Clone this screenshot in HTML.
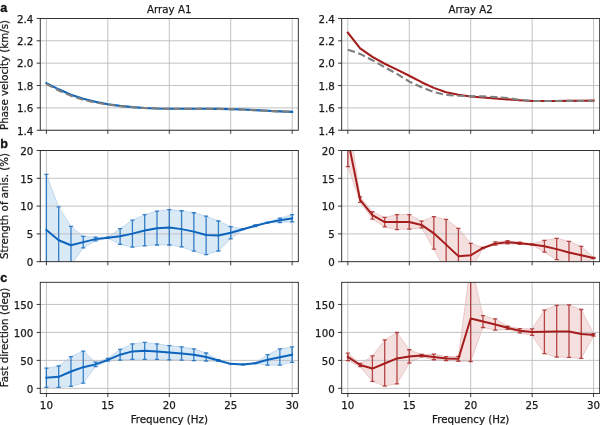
<!DOCTYPE html>
<html lang="en"><head><meta charset="utf-8"><title>Array A1 / Array A2 anisotropy figure</title>
<style>
html,body{margin:0;padding:0;background:#fff;}
svg{display:block;will-change:transform;}
.t{font-family:"DejaVu Sans", "Liberation Sans", sans-serif;font-size:10.25px;fill:#1a1a1a;stroke:#1a1a1a;stroke-width:0.25px;}
.p{font-family:"Liberation Sans", "DejaVu Sans", sans-serif;font-size:12.6px;font-weight:bold;fill:#111;stroke:#111;stroke-width:0.3px;}
</style></head><body>
<svg width="600" height="425" viewBox="0 0 600 425">
<rect width="600" height="425" fill="#fff"/>
<clipPath id="c1"><rect x="40.25" y="18.45" width="258.05" height="111.80"/></clipPath>
<g clip-path="url(#c1)">
<line x1="46.39" y1="18.45" x2="46.39" y2="130.25" stroke="#bbbbbe" stroke-width="0.9"/>
<line x1="107.83" y1="18.45" x2="107.83" y2="130.25" stroke="#bbbbbe" stroke-width="0.9"/>
<line x1="169.28" y1="18.45" x2="169.28" y2="130.25" stroke="#bbbbbe" stroke-width="0.9"/>
<line x1="230.72" y1="18.45" x2="230.72" y2="130.25" stroke="#bbbbbe" stroke-width="0.9"/>
<line x1="292.16" y1="18.45" x2="292.16" y2="130.25" stroke="#bbbbbe" stroke-width="0.9"/>
<line x1="40.25" y1="130.25" x2="298.3" y2="130.25" stroke="#bbbbbe" stroke-width="0.9"/>
<line x1="40.25" y1="107.89" x2="298.3" y2="107.89" stroke="#bbbbbe" stroke-width="0.9"/>
<line x1="40.25" y1="85.53" x2="298.3" y2="85.53" stroke="#bbbbbe" stroke-width="0.9"/>
<line x1="40.25" y1="63.17" x2="298.3" y2="63.17" stroke="#bbbbbe" stroke-width="0.9"/>
<line x1="40.25" y1="40.81" x2="298.3" y2="40.81" stroke="#bbbbbe" stroke-width="0.9"/>
<line x1="40.25" y1="18.45" x2="298.3" y2="18.45" stroke="#bbbbbe" stroke-width="0.9"/>
<polyline points="46.39,83.07 58.68,89.33 70.97,94.70 83.26,98.83 95.55,101.85 107.83,104.20 120.12,105.88 132.41,107.11 144.70,108.00 156.99,108.56 169.28,108.78 181.56,108.78 193.85,108.78 206.14,108.78 218.43,108.90 230.72,109.12 243.00,109.57 255.29,110.13 267.58,110.80 279.87,111.36 292.16,111.80" fill="none" stroke="#0c64bc" stroke-width="2.1" stroke-linejoin="round" stroke-linecap="square"/>
<polyline points="46.39,83.96 58.68,90.45 70.97,95.82 83.26,99.73 95.55,102.52 107.83,104.54 120.12,106.10 132.41,107.22 144.70,108.00 156.99,108.56 169.28,108.78 181.56,108.78 193.85,108.78 206.14,108.78 218.43,108.90 230.72,109.12 243.00,109.57 255.29,110.24 267.58,110.91 279.87,111.47 292.16,111.91" fill="none" stroke="#7f7f7f" stroke-width="2.1" stroke-dasharray="7.4 3.5" stroke-dashoffset="0" stroke-linejoin="round"/>
</g>
<rect x="40.25" y="18.45" width="258.05" height="111.80" fill="none" stroke="#222222" stroke-width="0.9"/>
<line x1="46.39" y1="130.25" x2="46.39" y2="133.85" stroke="#222222" stroke-width="0.9"/>
<line x1="107.83" y1="130.25" x2="107.83" y2="133.85" stroke="#222222" stroke-width="0.9"/>
<line x1="169.28" y1="130.25" x2="169.28" y2="133.85" stroke="#222222" stroke-width="0.9"/>
<line x1="230.72" y1="130.25" x2="230.72" y2="133.85" stroke="#222222" stroke-width="0.9"/>
<line x1="292.16" y1="130.25" x2="292.16" y2="133.85" stroke="#222222" stroke-width="0.9"/>
<line x1="36.65" y1="130.25" x2="40.25" y2="130.25" stroke="#222222" stroke-width="0.9"/>
<text x="33.25" y="134.50" text-anchor="end" class="t">1.4</text>
<line x1="36.65" y1="107.89" x2="40.25" y2="107.89" stroke="#222222" stroke-width="0.9"/>
<text x="33.25" y="112.14" text-anchor="end" class="t">1.6</text>
<line x1="36.65" y1="85.53" x2="40.25" y2="85.53" stroke="#222222" stroke-width="0.9"/>
<text x="33.25" y="89.78" text-anchor="end" class="t">1.8</text>
<line x1="36.65" y1="63.17" x2="40.25" y2="63.17" stroke="#222222" stroke-width="0.9"/>
<text x="33.25" y="67.42" text-anchor="end" class="t">2.0</text>
<line x1="36.65" y1="40.81" x2="40.25" y2="40.81" stroke="#222222" stroke-width="0.9"/>
<text x="33.25" y="45.06" text-anchor="end" class="t">2.2</text>
<line x1="36.65" y1="18.45" x2="40.25" y2="18.45" stroke="#222222" stroke-width="0.9"/>
<text x="33.25" y="22.70" text-anchor="end" class="t">2.4</text>
<clipPath id="c2"><rect x="341.7" y="18.45" width="258.00" height="111.80"/></clipPath>
<g clip-path="url(#c2)">
<line x1="347.84" y1="18.45" x2="347.84" y2="130.25" stroke="#bbbbbe" stroke-width="0.9"/>
<line x1="409.27" y1="18.45" x2="409.27" y2="130.25" stroke="#bbbbbe" stroke-width="0.9"/>
<line x1="470.70" y1="18.45" x2="470.70" y2="130.25" stroke="#bbbbbe" stroke-width="0.9"/>
<line x1="532.13" y1="18.45" x2="532.13" y2="130.25" stroke="#bbbbbe" stroke-width="0.9"/>
<line x1="593.56" y1="18.45" x2="593.56" y2="130.25" stroke="#bbbbbe" stroke-width="0.9"/>
<line x1="341.7" y1="130.25" x2="599.7" y2="130.25" stroke="#bbbbbe" stroke-width="0.9"/>
<line x1="341.7" y1="107.89" x2="599.7" y2="107.89" stroke="#bbbbbe" stroke-width="0.9"/>
<line x1="341.7" y1="85.53" x2="599.7" y2="85.53" stroke="#bbbbbe" stroke-width="0.9"/>
<line x1="341.7" y1="63.17" x2="599.7" y2="63.17" stroke="#bbbbbe" stroke-width="0.9"/>
<line x1="341.7" y1="40.81" x2="599.7" y2="40.81" stroke="#bbbbbe" stroke-width="0.9"/>
<line x1="341.7" y1="18.45" x2="599.7" y2="18.45" stroke="#bbbbbe" stroke-width="0.9"/>
<polyline points="347.84,32.65 360.13,48.41 372.41,56.80 384.70,63.73 396.99,69.65 409.27,75.80 421.56,82.18 433.84,87.88 446.13,92.24 458.41,94.81 470.70,96.49 482.99,97.49 495.27,98.50 507.56,99.39 519.84,100.29 532.13,100.96 544.41,101.07 556.70,100.96 568.99,100.85 581.27,100.73 593.56,100.62" fill="none" stroke="#a51c1c" stroke-width="2.1" stroke-linejoin="round" stroke-linecap="square"/>
<polyline points="347.84,49.75 360.13,53.89 372.41,60.26 384.70,67.19 396.99,73.90 409.27,81.62 421.56,87.32 433.84,92.01 446.13,94.92 458.41,95.82 470.70,96.15 482.99,96.37 495.27,96.93 507.56,98.05 519.84,99.84 532.13,100.96 544.41,101.07 556.70,100.96 568.99,100.85 581.27,100.85 593.56,100.73" fill="none" stroke="#7f7f7f" stroke-width="2.1" stroke-dasharray="7.4 3.5" stroke-dashoffset="0" stroke-linejoin="round"/>
</g>
<rect x="341.7" y="18.45" width="258.00" height="111.80" fill="none" stroke="#222222" stroke-width="0.9"/>
<line x1="347.84" y1="130.25" x2="347.84" y2="133.85" stroke="#222222" stroke-width="0.9"/>
<line x1="409.27" y1="130.25" x2="409.27" y2="133.85" stroke="#222222" stroke-width="0.9"/>
<line x1="470.70" y1="130.25" x2="470.70" y2="133.85" stroke="#222222" stroke-width="0.9"/>
<line x1="532.13" y1="130.25" x2="532.13" y2="133.85" stroke="#222222" stroke-width="0.9"/>
<line x1="593.56" y1="130.25" x2="593.56" y2="133.85" stroke="#222222" stroke-width="0.9"/>
<line x1="338.10" y1="130.25" x2="341.7" y2="130.25" stroke="#222222" stroke-width="0.9"/>
<text x="334.70" y="134.50" text-anchor="end" class="t">1.4</text>
<line x1="338.10" y1="107.89" x2="341.7" y2="107.89" stroke="#222222" stroke-width="0.9"/>
<text x="334.70" y="112.14" text-anchor="end" class="t">1.6</text>
<line x1="338.10" y1="85.53" x2="341.7" y2="85.53" stroke="#222222" stroke-width="0.9"/>
<text x="334.70" y="89.78" text-anchor="end" class="t">1.8</text>
<line x1="338.10" y1="63.17" x2="341.7" y2="63.17" stroke="#222222" stroke-width="0.9"/>
<text x="334.70" y="67.42" text-anchor="end" class="t">2.0</text>
<line x1="338.10" y1="40.81" x2="341.7" y2="40.81" stroke="#222222" stroke-width="0.9"/>
<text x="334.70" y="45.06" text-anchor="end" class="t">2.2</text>
<line x1="338.10" y1="18.45" x2="341.7" y2="18.45" stroke="#222222" stroke-width="0.9"/>
<text x="334.70" y="22.70" text-anchor="end" class="t">2.4</text>
<clipPath id="c3"><rect x="40.25" y="150.5" width="258.05" height="111.20"/></clipPath>
<g clip-path="url(#c3)">
<polygon points="46.39,174.41 58.68,206.88 70.97,226.28 83.26,236.29 95.55,237.12 107.83,237.24 120.12,228.62 132.41,220.17 144.70,214.61 156.99,211.10 169.28,209.60 181.56,210.77 193.85,212.77 206.14,216.11 218.43,221.00 230.72,226.62 243.00,228.73 255.29,225.00 267.58,222.17 279.87,218.11 292.16,214.55 292.16,221.95 279.87,222.50 267.58,223.06 255.29,226.67 243.00,229.62 230.72,238.79 218.43,251.02 206.14,254.64 193.85,251.14 181.56,246.97 169.28,245.02 156.99,245.02 144.70,245.80 132.41,247.13 120.12,244.46 107.83,238.35 95.55,240.96 83.26,247.97 70.97,265.04 58.68,273.38 46.39,285.61" fill="#d9e9f6" stroke="#0c64bc" stroke-opacity="0.22" stroke-width="0.8"/>
<line x1="46.39" y1="150.5" x2="46.39" y2="261.7" stroke="#bbbbbe" stroke-width="0.9"/>
<line x1="107.83" y1="150.5" x2="107.83" y2="261.7" stroke="#bbbbbe" stroke-width="0.9"/>
<line x1="169.28" y1="150.5" x2="169.28" y2="261.7" stroke="#bbbbbe" stroke-width="0.9"/>
<line x1="230.72" y1="150.5" x2="230.72" y2="261.7" stroke="#bbbbbe" stroke-width="0.9"/>
<line x1="292.16" y1="150.5" x2="292.16" y2="261.7" stroke="#bbbbbe" stroke-width="0.9"/>
<line x1="40.25" y1="261.70" x2="298.3" y2="261.70" stroke="#bbbbbe" stroke-width="0.9"/>
<line x1="40.25" y1="233.90" x2="298.3" y2="233.90" stroke="#bbbbbe" stroke-width="0.9"/>
<line x1="40.25" y1="206.10" x2="298.3" y2="206.10" stroke="#bbbbbe" stroke-width="0.9"/>
<line x1="40.25" y1="178.30" x2="298.3" y2="178.30" stroke="#bbbbbe" stroke-width="0.9"/>
<line x1="40.25" y1="150.50" x2="298.3" y2="150.50" stroke="#bbbbbe" stroke-width="0.9"/>
<path d="M46.39,285.61V174.41M44.29,285.61h4.2M44.29,174.41h4.2M58.68,273.38V206.88M56.58,273.38h4.2M56.58,206.88h4.2M70.97,265.04V226.28M68.87,265.04h4.2M68.87,226.28h4.2M83.26,247.97V236.29M81.16,247.97h4.2M81.16,236.29h4.2M95.55,240.96V237.12M93.45,240.96h4.2M93.45,237.12h4.2M107.83,238.35V237.24M105.73,238.35h4.2M105.73,237.24h4.2M120.12,244.46V228.62M118.02,244.46h4.2M118.02,228.62h4.2M132.41,247.13V220.17M130.31,247.13h4.2M130.31,220.17h4.2M144.70,245.80V214.61M142.60,245.80h4.2M142.60,214.61h4.2M156.99,245.02V211.10M154.89,245.02h4.2M154.89,211.10h4.2M169.28,245.02V209.60M167.18,245.02h4.2M167.18,209.60h4.2M181.56,246.97V210.77M179.46,246.97h4.2M179.46,210.77h4.2M193.85,251.14V212.77M191.75,251.14h4.2M191.75,212.77h4.2M206.14,254.64V216.11M204.04,254.64h4.2M204.04,216.11h4.2M218.43,251.02V221.00M216.33,251.02h4.2M216.33,221.00h4.2M230.72,238.79V226.62M228.62,238.79h4.2M228.62,226.62h4.2M243.00,229.62V228.73M240.90,229.62h4.2M240.90,228.73h4.2M255.29,226.67V225.00M253.19,226.67h4.2M253.19,225.00h4.2M267.58,223.06V222.17M265.48,223.06h4.2M265.48,222.17h4.2M279.87,222.50V218.11M277.77,222.50h4.2M277.77,218.11h4.2M292.16,221.95V214.55M290.06,221.95h4.2M290.06,214.55h4.2" fill="none" stroke="#0c64bc" stroke-opacity="0.8" stroke-width="1.3"/>
<polyline points="46.39,229.95 58.68,240.29 70.97,245.30 83.26,242.13 95.55,239.13 107.83,237.79 120.12,236.29 132.41,233.62 144.70,230.45 156.99,228.28 169.28,227.45 181.56,229.12 193.85,231.62 206.14,234.96 218.43,235.46 230.72,232.73 243.00,229.17 255.29,225.84 267.58,222.61 279.87,220.33 292.16,218.33" fill="none" stroke="#0c64bc" stroke-width="2" stroke-linejoin="round" stroke-linecap="square"/>
</g>
<rect x="40.25" y="150.5" width="258.05" height="111.20" fill="none" stroke="#222222" stroke-width="0.9"/>
<line x1="46.39" y1="261.7" x2="46.39" y2="265.3" stroke="#222222" stroke-width="0.9"/>
<line x1="107.83" y1="261.7" x2="107.83" y2="265.3" stroke="#222222" stroke-width="0.9"/>
<line x1="169.28" y1="261.7" x2="169.28" y2="265.3" stroke="#222222" stroke-width="0.9"/>
<line x1="230.72" y1="261.7" x2="230.72" y2="265.3" stroke="#222222" stroke-width="0.9"/>
<line x1="292.16" y1="261.7" x2="292.16" y2="265.3" stroke="#222222" stroke-width="0.9"/>
<line x1="36.65" y1="261.70" x2="40.25" y2="261.70" stroke="#222222" stroke-width="0.9"/>
<text x="33.25" y="265.95" text-anchor="end" class="t">0</text>
<line x1="36.65" y1="233.90" x2="40.25" y2="233.90" stroke="#222222" stroke-width="0.9"/>
<text x="33.25" y="238.15" text-anchor="end" class="t">5</text>
<line x1="36.65" y1="206.10" x2="40.25" y2="206.10" stroke="#222222" stroke-width="0.9"/>
<text x="33.25" y="210.35" text-anchor="end" class="t">10</text>
<line x1="36.65" y1="178.30" x2="40.25" y2="178.30" stroke="#222222" stroke-width="0.9"/>
<text x="33.25" y="182.55" text-anchor="end" class="t">15</text>
<line x1="36.65" y1="150.50" x2="40.25" y2="150.50" stroke="#222222" stroke-width="0.9"/>
<text x="33.25" y="154.75" text-anchor="end" class="t">20</text>
<clipPath id="c4"><rect x="341.7" y="150.5" width="258.00" height="111.20"/></clipPath>
<g clip-path="url(#c4)">
<polygon points="347.84,112.14 360.13,196.87 372.41,211.66 384.70,217.44 396.99,214.61 409.27,214.61 421.56,221.11 433.84,216.66 446.13,219.44 458.41,228.34 470.70,243.35 482.99,247.41 495.27,241.96 507.56,240.68 519.84,242.13 532.13,243.91 544.41,240.29 556.70,238.29 568.99,241.29 581.27,246.30 593.56,257.31 593.56,258.64 581.27,264.31 568.99,263.65 556.70,259.64 544.41,252.14 532.13,245.02 519.84,244.46 507.56,243.80 495.27,245.02 482.99,248.52 470.70,270.60 458.41,283.94 446.13,271.71 433.84,249.13 421.56,227.95 409.27,229.12 396.99,229.62 384.70,226.95 372.41,219.11 360.13,202.37 347.84,166.62" fill="#f5e0e0" stroke="#a51c1c" stroke-opacity="0.22" stroke-width="0.8"/>
<line x1="347.84" y1="150.5" x2="347.84" y2="261.7" stroke="#bbbbbe" stroke-width="0.9"/>
<line x1="409.27" y1="150.5" x2="409.27" y2="261.7" stroke="#bbbbbe" stroke-width="0.9"/>
<line x1="470.70" y1="150.5" x2="470.70" y2="261.7" stroke="#bbbbbe" stroke-width="0.9"/>
<line x1="532.13" y1="150.5" x2="532.13" y2="261.7" stroke="#bbbbbe" stroke-width="0.9"/>
<line x1="593.56" y1="150.5" x2="593.56" y2="261.7" stroke="#bbbbbe" stroke-width="0.9"/>
<line x1="341.7" y1="261.70" x2="599.7" y2="261.70" stroke="#bbbbbe" stroke-width="0.9"/>
<line x1="341.7" y1="233.90" x2="599.7" y2="233.90" stroke="#bbbbbe" stroke-width="0.9"/>
<line x1="341.7" y1="206.10" x2="599.7" y2="206.10" stroke="#bbbbbe" stroke-width="0.9"/>
<line x1="341.7" y1="178.30" x2="599.7" y2="178.30" stroke="#bbbbbe" stroke-width="0.9"/>
<line x1="341.7" y1="150.50" x2="599.7" y2="150.50" stroke="#bbbbbe" stroke-width="0.9"/>
<path d="M347.84,166.62V112.14M345.74,166.62h4.2M345.74,112.14h4.2M360.13,202.37V196.87M358.03,202.37h4.2M358.03,196.87h4.2M372.41,219.11V211.66M370.31,219.11h4.2M370.31,211.66h4.2M384.70,226.95V217.44M382.60,226.95h4.2M382.60,217.44h4.2M396.99,229.62V214.61M394.89,229.62h4.2M394.89,214.61h4.2M409.27,229.12V214.61M407.17,229.12h4.2M407.17,214.61h4.2M421.56,227.95V221.11M419.46,227.95h4.2M419.46,221.11h4.2M433.84,249.13V216.66M431.74,249.13h4.2M431.74,216.66h4.2M446.13,271.71V219.44M444.03,271.71h4.2M444.03,219.44h4.2M458.41,283.94V228.34M456.31,283.94h4.2M456.31,228.34h4.2M470.70,270.60V243.35M468.60,270.60h4.2M468.60,243.35h4.2M482.99,248.52V247.41M480.89,248.52h4.2M480.89,247.41h4.2M495.27,245.02V241.96M493.17,245.02h4.2M493.17,241.96h4.2M507.56,243.80V240.68M505.46,243.80h4.2M505.46,240.68h4.2M519.84,244.46V242.13M517.74,244.46h4.2M517.74,242.13h4.2M532.13,245.02V243.91M530.03,245.02h4.2M530.03,243.91h4.2M544.41,252.14V240.29M542.31,252.14h4.2M542.31,240.29h4.2M556.70,259.64V238.29M554.60,259.64h4.2M554.60,238.29h4.2M568.99,263.65V241.29M566.89,263.65h4.2M566.89,241.29h4.2M581.27,264.31V246.30M579.17,264.31h4.2M579.17,246.30h4.2M593.56,258.64V257.31M591.46,258.64h4.2M591.46,257.31h4.2" fill="none" stroke="#a51c1c" stroke-opacity="0.8" stroke-width="1.3"/>
<polyline points="347.84,139.38 360.13,199.98 372.41,215.22 384.70,222.11 396.99,221.95 409.27,221.95 421.56,224.95 433.84,233.34 446.13,244.63 458.41,256.14 470.70,255.31 482.99,247.97 495.27,243.63 507.56,242.24 519.84,243.30 532.13,244.46 544.41,246.30 556.70,249.13 568.99,252.47 581.27,255.31 593.56,257.97" fill="none" stroke="#a51c1c" stroke-width="2" stroke-linejoin="round" stroke-linecap="square"/>
</g>
<rect x="341.7" y="150.5" width="258.00" height="111.20" fill="none" stroke="#222222" stroke-width="0.9"/>
<line x1="347.84" y1="261.7" x2="347.84" y2="265.3" stroke="#222222" stroke-width="0.9"/>
<line x1="409.27" y1="261.7" x2="409.27" y2="265.3" stroke="#222222" stroke-width="0.9"/>
<line x1="470.70" y1="261.7" x2="470.70" y2="265.3" stroke="#222222" stroke-width="0.9"/>
<line x1="532.13" y1="261.7" x2="532.13" y2="265.3" stroke="#222222" stroke-width="0.9"/>
<line x1="593.56" y1="261.7" x2="593.56" y2="265.3" stroke="#222222" stroke-width="0.9"/>
<line x1="338.10" y1="261.70" x2="341.7" y2="261.70" stroke="#222222" stroke-width="0.9"/>
<text x="334.70" y="265.95" text-anchor="end" class="t">0</text>
<line x1="338.10" y1="233.90" x2="341.7" y2="233.90" stroke="#222222" stroke-width="0.9"/>
<text x="334.70" y="238.15" text-anchor="end" class="t">5</text>
<line x1="338.10" y1="206.10" x2="341.7" y2="206.10" stroke="#222222" stroke-width="0.9"/>
<text x="334.70" y="210.35" text-anchor="end" class="t">10</text>
<line x1="338.10" y1="178.30" x2="341.7" y2="178.30" stroke="#222222" stroke-width="0.9"/>
<text x="334.70" y="182.55" text-anchor="end" class="t">15</text>
<line x1="338.10" y1="150.50" x2="341.7" y2="150.50" stroke="#222222" stroke-width="0.9"/>
<text x="334.70" y="154.75" text-anchor="end" class="t">20</text>
<clipPath id="c5"><rect x="40.25" y="282.3" width="258.05" height="111.15"/></clipPath>
<g clip-path="url(#c5)">
<polygon points="46.39,368.22 58.68,365.98 70.97,356.53 83.26,351.05 95.55,362.18 107.83,358.49 120.12,349.37 132.41,343.89 144.70,342.38 156.99,343.89 169.28,345.57 181.56,346.85 193.85,348.87 206.14,353.01 218.43,359.72 230.72,363.58 243.00,364.25 255.29,362.80 267.58,354.68 279.87,348.87 292.16,346.85 292.16,362.35 279.87,365.20 267.58,365.20 255.29,363.58 243.00,364.81 230.72,364.14 218.43,361.40 206.14,361.01 193.85,360.67 181.56,360.17 169.28,359.83 156.99,359.38 144.70,359.38 132.41,359.38 120.12,360.17 107.83,361.17 95.55,366.54 83.26,383.16 70.97,386.35 58.68,387.35 46.39,387.35" fill="#d9e9f6" stroke="#0c64bc" stroke-opacity="0.22" stroke-width="0.8"/>
<line x1="46.39" y1="282.3" x2="46.39" y2="393.45" stroke="#bbbbbe" stroke-width="0.9"/>
<line x1="107.83" y1="282.3" x2="107.83" y2="393.45" stroke="#bbbbbe" stroke-width="0.9"/>
<line x1="169.28" y1="282.3" x2="169.28" y2="393.45" stroke="#bbbbbe" stroke-width="0.9"/>
<line x1="230.72" y1="282.3" x2="230.72" y2="393.45" stroke="#bbbbbe" stroke-width="0.9"/>
<line x1="292.16" y1="282.3" x2="292.16" y2="393.45" stroke="#bbbbbe" stroke-width="0.9"/>
<line x1="40.25" y1="388.36" x2="298.3" y2="388.36" stroke="#bbbbbe" stroke-width="0.9"/>
<line x1="40.25" y1="360.39" x2="298.3" y2="360.39" stroke="#bbbbbe" stroke-width="0.9"/>
<line x1="40.25" y1="332.42" x2="298.3" y2="332.42" stroke="#bbbbbe" stroke-width="0.9"/>
<line x1="40.25" y1="304.45" x2="298.3" y2="304.45" stroke="#bbbbbe" stroke-width="0.9"/>
<path d="M46.39,387.35V368.22M44.29,387.35h4.2M44.29,368.22h4.2M58.68,387.35V365.98M56.58,387.35h4.2M56.58,365.98h4.2M70.97,386.35V356.53M68.87,386.35h4.2M68.87,356.53h4.2M83.26,383.16V351.05M81.16,383.16h4.2M81.16,351.05h4.2M95.55,366.54V362.18M93.45,366.54h4.2M93.45,362.18h4.2M107.83,361.17V358.49M105.73,361.17h4.2M105.73,358.49h4.2M120.12,360.17V349.37M118.02,360.17h4.2M118.02,349.37h4.2M132.41,359.38V343.89M130.31,359.38h4.2M130.31,343.89h4.2M144.70,359.38V342.38M142.60,359.38h4.2M142.60,342.38h4.2M156.99,359.38V343.89M154.89,359.38h4.2M154.89,343.89h4.2M169.28,359.83V345.57M167.18,359.83h4.2M167.18,345.57h4.2M181.56,360.17V346.85M179.46,360.17h4.2M179.46,346.85h4.2M193.85,360.67V348.87M191.75,360.67h4.2M191.75,348.87h4.2M206.14,361.01V353.01M204.04,361.01h4.2M204.04,353.01h4.2M218.43,361.40V359.72M216.33,361.40h4.2M216.33,359.72h4.2M230.72,364.14V363.58M228.62,364.14h4.2M228.62,363.58h4.2M243.00,364.81V364.25M240.90,364.81h4.2M240.90,364.25h4.2M255.29,363.58V362.80M253.19,363.58h4.2M253.19,362.80h4.2M267.58,365.20V354.68M265.48,365.20h4.2M265.48,354.68h4.2M279.87,365.20V348.87M277.77,365.20h4.2M277.77,348.87h4.2M292.16,362.35V346.85M290.06,362.35h4.2M290.06,346.85h4.2" fill="none" stroke="#0c64bc" stroke-opacity="0.8" stroke-width="1.3"/>
<polyline points="46.39,377.68 58.68,376.84 70.97,371.52 83.26,367.16 95.55,364.36 107.83,359.83 120.12,354.68 132.41,351.38 144.70,350.71 156.99,351.38 169.28,352.39 181.56,353.51 193.85,354.68 206.14,357.03 218.43,360.56 230.72,363.86 243.00,364.53 255.29,363.19 267.58,359.83 279.87,357.20 292.16,354.68" fill="none" stroke="#0c64bc" stroke-width="2" stroke-linejoin="round" stroke-linecap="square"/>
</g>
<rect x="40.25" y="282.3" width="258.05" height="111.15" fill="none" stroke="#222222" stroke-width="0.9"/>
<line x1="46.39" y1="393.45" x2="46.39" y2="397.05" stroke="#222222" stroke-width="0.9"/>
<text x="46.39" y="409" text-anchor="middle" class="t">10</text>
<line x1="107.83" y1="393.45" x2="107.83" y2="397.05" stroke="#222222" stroke-width="0.9"/>
<text x="107.83" y="409" text-anchor="middle" class="t">15</text>
<line x1="169.28" y1="393.45" x2="169.28" y2="397.05" stroke="#222222" stroke-width="0.9"/>
<text x="169.28" y="409" text-anchor="middle" class="t">20</text>
<line x1="230.72" y1="393.45" x2="230.72" y2="397.05" stroke="#222222" stroke-width="0.9"/>
<text x="230.72" y="409" text-anchor="middle" class="t">25</text>
<line x1="292.16" y1="393.45" x2="292.16" y2="397.05" stroke="#222222" stroke-width="0.9"/>
<text x="292.16" y="409" text-anchor="middle" class="t">30</text>
<line x1="36.65" y1="388.36" x2="40.25" y2="388.36" stroke="#222222" stroke-width="0.9"/>
<text x="33.25" y="392.61" text-anchor="end" class="t">0</text>
<line x1="36.65" y1="360.39" x2="40.25" y2="360.39" stroke="#222222" stroke-width="0.9"/>
<text x="33.25" y="364.64" text-anchor="end" class="t">50</text>
<line x1="36.65" y1="332.42" x2="40.25" y2="332.42" stroke="#222222" stroke-width="0.9"/>
<text x="33.25" y="336.67" text-anchor="end" class="t">100</text>
<line x1="36.65" y1="304.45" x2="40.25" y2="304.45" stroke="#222222" stroke-width="0.9"/>
<text x="33.25" y="308.70" text-anchor="end" class="t">150</text>
<clipPath id="c6"><rect x="341.7" y="282.3" width="258.00" height="111.15"/></clipPath>
<g clip-path="url(#c6)">
<polygon points="347.84,353.12 360.13,363.52 372.41,355.97 384.70,339.97 396.99,332.48 409.27,349.76 421.56,354.35 433.84,354.13 446.13,356.53 458.41,356.47 470.70,262.50 482.99,315.64 495.27,318.88 507.56,326.27 519.84,328.56 532.13,328.84 544.41,310.05 556.70,305.29 568.99,304.96 581.27,309.49 593.56,333.60 593.56,336.17 581.27,358.38 568.99,357.43 556.70,357.03 544.41,353.68 532.13,335.44 519.84,332.87 507.56,329.40 495.27,330.18 482.99,327.50 470.70,361.51 458.41,361.23 446.13,360.67 433.84,359.77 421.56,356.81 409.27,363.13 396.99,383.83 384.70,386.07 372.41,381.37 360.13,366.71 347.84,360.67" fill="#f5e0e0" stroke="#a51c1c" stroke-opacity="0.22" stroke-width="0.8"/>
<line x1="347.84" y1="282.3" x2="347.84" y2="393.45" stroke="#bbbbbe" stroke-width="0.9"/>
<line x1="409.27" y1="282.3" x2="409.27" y2="393.45" stroke="#bbbbbe" stroke-width="0.9"/>
<line x1="470.70" y1="282.3" x2="470.70" y2="393.45" stroke="#bbbbbe" stroke-width="0.9"/>
<line x1="532.13" y1="282.3" x2="532.13" y2="393.45" stroke="#bbbbbe" stroke-width="0.9"/>
<line x1="593.56" y1="282.3" x2="593.56" y2="393.45" stroke="#bbbbbe" stroke-width="0.9"/>
<line x1="341.7" y1="388.36" x2="599.7" y2="388.36" stroke="#bbbbbe" stroke-width="0.9"/>
<line x1="341.7" y1="360.39" x2="599.7" y2="360.39" stroke="#bbbbbe" stroke-width="0.9"/>
<line x1="341.7" y1="332.42" x2="599.7" y2="332.42" stroke="#bbbbbe" stroke-width="0.9"/>
<line x1="341.7" y1="304.45" x2="599.7" y2="304.45" stroke="#bbbbbe" stroke-width="0.9"/>
<path d="M347.84,360.67V353.12M345.74,360.67h4.2M345.74,353.12h4.2M360.13,366.71V363.52M358.03,366.71h4.2M358.03,363.52h4.2M372.41,381.37V355.97M370.31,381.37h4.2M370.31,355.97h4.2M384.70,386.07V339.97M382.60,386.07h4.2M382.60,339.97h4.2M396.99,383.83V332.48M394.89,383.83h4.2M394.89,332.48h4.2M409.27,363.13V349.76M407.17,363.13h4.2M407.17,349.76h4.2M421.56,356.81V354.35M419.46,356.81h4.2M419.46,354.35h4.2M433.84,359.77V354.13M431.74,359.77h4.2M431.74,354.13h4.2M446.13,360.67V356.53M444.03,360.67h4.2M444.03,356.53h4.2M458.41,361.23V356.47M456.31,361.23h4.2M456.31,356.47h4.2M470.70,361.51V262.50M468.60,361.51h4.2M468.60,262.50h4.2M482.99,327.50V315.64M480.89,327.50h4.2M480.89,315.64h4.2M495.27,330.18V318.88M493.17,330.18h4.2M493.17,318.88h4.2M507.56,329.40V326.27M505.46,329.40h4.2M505.46,326.27h4.2M519.84,332.87V328.56M517.74,332.87h4.2M517.74,328.56h4.2M532.13,335.44V328.84M530.03,335.44h4.2M530.03,328.84h4.2M544.41,353.68V310.05M542.31,353.68h4.2M542.31,310.05h4.2M556.70,357.03V305.29M554.60,357.03h4.2M554.60,305.29h4.2M568.99,357.43V304.96M566.89,357.43h4.2M566.89,304.96h4.2M581.27,358.38V309.49M579.17,358.38h4.2M579.17,309.49h4.2M593.56,336.17V333.60M591.46,336.17h4.2M591.46,333.60h4.2" fill="none" stroke="#a51c1c" stroke-opacity="0.8" stroke-width="1.3"/>
<polyline points="347.84,356.92 360.13,364.98 372.41,368.56 384.70,363.52 396.99,358.43 409.27,356.53 421.56,355.58 433.84,356.92 446.13,358.60 458.41,358.71 470.70,318.44 482.99,321.57 495.27,324.42 507.56,327.83 519.84,330.69 532.13,332.03 544.41,331.86 556.70,331.47 568.99,331.47 581.27,333.93 593.56,334.88" fill="none" stroke="#a51c1c" stroke-width="2" stroke-linejoin="round" stroke-linecap="square"/>
</g>
<rect x="341.7" y="282.3" width="258.00" height="111.15" fill="none" stroke="#222222" stroke-width="0.9"/>
<line x1="347.84" y1="393.45" x2="347.84" y2="397.05" stroke="#222222" stroke-width="0.9"/>
<text x="347.84" y="409" text-anchor="middle" class="t">10</text>
<line x1="409.27" y1="393.45" x2="409.27" y2="397.05" stroke="#222222" stroke-width="0.9"/>
<text x="409.27" y="409" text-anchor="middle" class="t">15</text>
<line x1="470.70" y1="393.45" x2="470.70" y2="397.05" stroke="#222222" stroke-width="0.9"/>
<text x="470.70" y="409" text-anchor="middle" class="t">20</text>
<line x1="532.13" y1="393.45" x2="532.13" y2="397.05" stroke="#222222" stroke-width="0.9"/>
<text x="532.13" y="409" text-anchor="middle" class="t">25</text>
<line x1="593.56" y1="393.45" x2="593.56" y2="397.05" stroke="#222222" stroke-width="0.9"/>
<text x="593.56" y="409" text-anchor="middle" class="t">30</text>
<line x1="338.10" y1="388.36" x2="341.7" y2="388.36" stroke="#222222" stroke-width="0.9"/>
<text x="334.70" y="392.61" text-anchor="end" class="t">0</text>
<line x1="338.10" y1="360.39" x2="341.7" y2="360.39" stroke="#222222" stroke-width="0.9"/>
<text x="334.70" y="364.64" text-anchor="end" class="t">50</text>
<line x1="338.10" y1="332.42" x2="341.7" y2="332.42" stroke="#222222" stroke-width="0.9"/>
<text x="334.70" y="336.67" text-anchor="end" class="t">100</text>
<line x1="338.10" y1="304.45" x2="341.7" y2="304.45" stroke="#222222" stroke-width="0.9"/>
<text x="334.70" y="308.70" text-anchor="end" class="t">150</text>
<text x="169.28" y="12.7" text-anchor="middle" class="t">Array A1</text>
<text x="470.70" y="12.7" text-anchor="middle" class="t">Array A2</text>
<text x="169.28" y="422.5" text-anchor="middle" class="t">Frequency (Hz)</text>
<text x="470.70" y="422.5" text-anchor="middle" class="t">Frequency (Hz)</text>
<text transform="translate(8.0,74.95) rotate(-90)" text-anchor="middle" class="t">Phase velocity (km/s)</text>
<text transform="translate(8.0,206.00) rotate(-90)" text-anchor="middle" class="t">Strength of anis. (%)</text>
<text transform="translate(8.0,337.48) rotate(-90)" text-anchor="middle" class="t">Fast direction (deg)</text>
<text x="0.3" y="11.700000000000001" class="p">a</text>
<text x="0.3" y="147.9" class="p">b</text>
<text x="0.3" y="281.90000000000003" class="p">c</text>
</svg>
</body></html>
